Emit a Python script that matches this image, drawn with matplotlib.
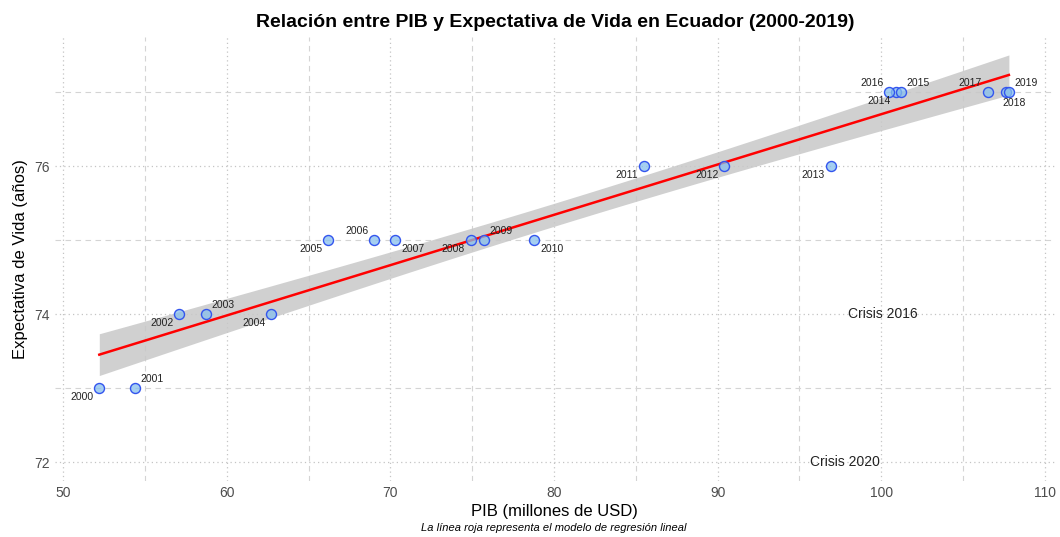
import numpy as np
import matplotlib
matplotlib.use("Agg")
import matplotlib.pyplot as plt
from matplotlib.ticker import MultipleLocator

# data
years = list(range(2000, 2020))
pib = [52.2, 54.4, 57.1, 58.7, 62.7, 66.2, 69.0, 70.3, 74.9, 75.7,
       78.8, 85.5, 90.4, 96.9, 100.9, 101.2, 100.5, 106.5, 107.6, 107.8]
vida = [73, 73, 74, 74, 74, 75, 75, 75, 75, 75,
        75, 76, 76, 76, 77, 77, 77, 77, 77, 77]
# label placement per year: below-left, above-right, ...
label_pos = ["bl", "ar", "bl", "ar", "bl", "bl", "al", "br", "bl", "ar",
             "br", "bl", "bl", "bl", "bl", "ar", "al", "al", "b", "ar"]
crisis_text = ["Crisis 2016", "Crisis 2020"]
crisis_x = [100.1, 97.8]
crisis_y = [74, 72]

T_975_DF18 = 2.1009  # t quantile for a 95% band with n-2 = 18 dof

plt.rcParams["font.family"] = ["Liberation Sans", "DejaVu Sans"]

x = np.array(pib, float)
y = np.array(vida, float)
n = len(x)
b1, b0 = np.polyfit(x, y, 1)
resid = y - (b0 + b1 * x)
s = np.sqrt((resid ** 2).sum() / (n - 2))
xs = np.linspace(x.min(), x.max(), 200)
ys = b0 + b1 * xs
se = s * np.sqrt(1 / n + (xs - x.mean()) ** 2 / ((x - x.mean()) ** 2).sum())

fig = plt.figure(figsize=(10.6, 5.37), dpi=100)
ax = fig.add_axes([0.052, 0.105, 0.943, 0.827])

ax.fill_between(xs, ys - T_975_DF18 * se, ys + T_975_DF18 * se,
                color="#c8c8c8", alpha=0.85, lw=0, zorder=2)
ax.plot(xs, ys, color="red", lw=1.8, zorder=3)
ax.scatter(x, y, s=52, facecolor=(0.53, 0.75, 0.93, 0.75),
           edgecolor="#3355ee", lw=1.0, zorder=4)

offs = {"bl": (-4, -3, "right", "top"), "br": (4, -3, "left", "top"),
        "al": (-4, 3, "right", "bottom"), "ar": (4, 3, "left", "bottom"),
        "b": (6, -4, "center", "top")}
for yr, xi, yi, p in zip(years, pib, vida, label_pos):
    dx, dy, ha, va = offs[p]
    ax.annotate(str(yr), (xi, yi), xytext=(dx, dy), textcoords="offset points",
                ha=ha, va=va, fontsize=7.5, color="#222222", zorder=5)

for t, cx, cy in zip(crisis_text, crisis_x, crisis_y):
    ax.text(cx, cy, t, ha="center", va="center", fontsize=10, color="#222222", zorder=5)

ax.set_xlim(49.5, 110.6)
ax.set_ylim(71.75, 77.75)
ax.xaxis.set_major_locator(MultipleLocator(10))
ax.xaxis.set_minor_locator(MultipleLocator(5))
ax.yaxis.set_major_locator(MultipleLocator(2))
ax.yaxis.set_minor_locator(MultipleLocator(1))
ax.grid(which="major", color="#c4c4c4", ls=(0, (1, 2.5)), lw=0.9)
ax.grid(which="minor", color="#d4d4d4", ls=(0, (5, 4)), lw=0.8)
ax.set_axisbelow(True)
for sp in ax.spines.values():
    sp.set_visible(False)
ax.tick_params(which="both", length=0, labelsize=10, labelcolor="#4d4d4d", pad=4)

ax.set_xlabel("PIB (millones de USD)", fontsize=12, labelpad=3)
ax.set_ylabel("Expectativa de Vida (años)", fontsize=12, labelpad=4)
ax.set_title("Relación entre PIB y Expectativa de Vida en Ecuador (2000-2019)",
             fontsize=14, fontweight="bold", pad=7)
fig.text(0.522, 0.016, "La línea roja representa el modelo de regresión lineal",
         ha="center", va="center", fontsize=8, style="italic")

fig.savefig("out.png", dpi=100)
